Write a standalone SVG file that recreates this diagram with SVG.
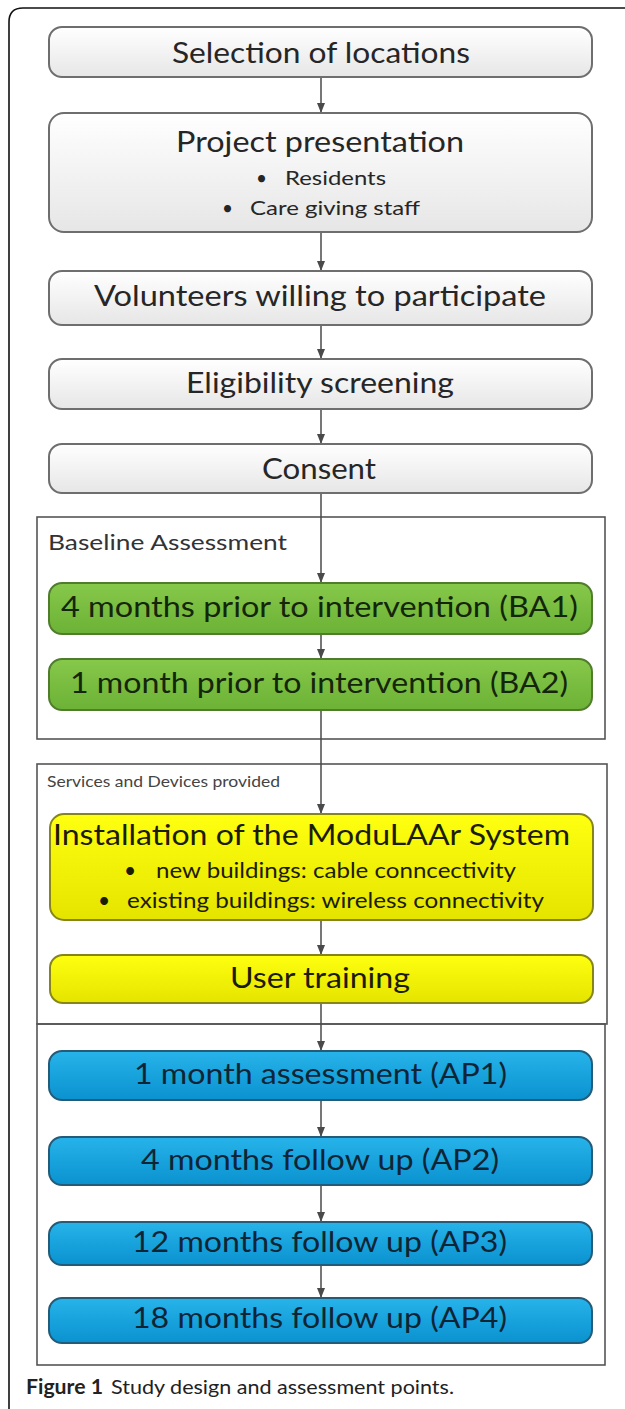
<svg xmlns="http://www.w3.org/2000/svg" width="625" height="1409" viewBox="0 0 625 1409">
<defs>
<linearGradient id="gGray" x1="0" y1="0" x2="0" y2="1"><stop offset="0" stop-color="#ffffff"/><stop offset="1" stop-color="#e6e6e6"/></linearGradient>
<linearGradient id="gGreen" x1="0" y1="0" x2="0" y2="1"><stop offset="0" stop-color="#86c84a"/><stop offset="1" stop-color="#6cb236"/></linearGradient>
<linearGradient id="gYellow" x1="0" y1="0" x2="0" y2="1"><stop offset="0" stop-color="#ffff10"/><stop offset="1" stop-color="#e4e400"/></linearGradient>
<linearGradient id="gBlue" x1="0" y1="0" x2="0" y2="1"><stop offset="0" stop-color="#27b3ea"/><stop offset="1" stop-color="#0a92cf"/></linearGradient>
<marker id="arr" markerUnits="userSpaceOnUse" markerWidth="10" markerHeight="10" viewBox="0 0 10 10" refX="10" refY="5" orient="auto">
<path d="M0,1 L10,5 L0,9 Z" fill="#4a4a4a"/>
</marker>
</defs>
<style>
text{font-family:Lato,"Open Sans","Liberation Sans",sans-serif;}
.t{font-size:28px;fill:#262626;}
.tc{text-anchor:middle;}
.s{font-size:19px;fill:#262626;}
.gray{fill:url(#gGray);stroke:#6e6e6e;stroke-width:2;}
.green{fill:url(#gGreen);stroke:#4f7d2c;stroke-width:2;}
.yellow{fill:url(#gYellow);stroke:#85851c;stroke-width:2;}
.blue{fill:url(#gBlue);stroke:#245b78;stroke-width:2;}
.cont{fill:none;stroke:#555555;stroke-width:1.6;}
.lbl{font-size:21px;fill:#333333;}
.gt{fill:#14260a;}
.yt{fill:#1c1c00;}
.bt{fill:#0f2535;}
.conn line{stroke:#4a4a4a;stroke-width:1.5;marker-end:url(#arr);}
</style>
<rect x="0" y="0" width="625" height="1409" fill="#ffffff"/>
<path d="M9,1409 L9,22 Q9,8 23,8 L625,8" fill="none" stroke="#111111" stroke-width="1.6"/>

<g id="group-baseline">
<rect class="cont" x="37" y="517" width="568" height="222"/>
<text class="lbl" x="48" y="550" textLength="239" lengthAdjust="spacingAndGlyphs">Baseline Assessment</text>
</g>
<g id="group-services">
<rect class="cont" x="37" y="764" width="570" height="260"/>
<text class="lbl" x="47" y="787" style="font-size:16px;fill:#444" textLength="233" lengthAdjust="spacingAndGlyphs">Services and Devices provided</text>
</g>
<g id="group-followup">
<rect class="cont" x="37" y="1024" width="568" height="341"/>
</g>

<g class="conn" id="connectors">
<line x1="321" y1="77" x2="321" y2="113"/>
<line x1="321" y1="232" x2="321" y2="271"/>
<line x1="321" y1="325" x2="321" y2="359"/>
<line x1="321" y1="409" x2="321" y2="444"/>
<line x1="321" y1="493" x2="321" y2="583"/>
<line x1="321" y1="634" x2="321" y2="659"/>
<line x1="321" y1="710" x2="321" y2="814"/>
<line x1="321" y1="920" x2="321" y2="955"/>
<line x1="321" y1="1003" x2="321" y2="1051"/>
<line x1="321" y1="1100" x2="321" y2="1137"/>
<line x1="321" y1="1185" x2="321" y2="1222"/>
<line x1="321" y1="1265" x2="321" y2="1298"/>
</g>

<g id="n-selection">
<rect class="gray" x="49" y="27" width="543" height="50" rx="13"/>
<text class="t tc" x="321" y="63" textLength="298" lengthAdjust="spacingAndGlyphs">Selection of locations</text>
</g>
<g id="n-presentation">
<rect class="gray" x="49" y="113" width="543" height="119" rx="15"/>
<text class="t tc" x="320" y="152" textLength="288" lengthAdjust="spacingAndGlyphs">Project presentation</text>
<text class="s" x="256" y="185">•</text>
<text class="s" x="285" y="185" textLength="101" lengthAdjust="spacingAndGlyphs">Residents</text>
<text class="s" x="222" y="215">•</text>
<text class="s" x="250" y="215" textLength="170" lengthAdjust="spacingAndGlyphs">Care giving staff</text>
</g>
<g id="n-volunteers">
<rect class="gray" x="49" y="271" width="543" height="54" rx="13"/>
<text class="t tc" x="320" y="306" textLength="452" lengthAdjust="spacingAndGlyphs">Volunteers willing to participate</text>
</g>
<g id="n-eligibility">
<rect class="gray" x="49" y="359" width="543" height="50" rx="13"/>
<text class="t tc" x="320" y="393" textLength="268" lengthAdjust="spacingAndGlyphs">Eligibility screening</text>
</g>
<g id="n-consent">
<rect class="gray" x="49" y="444" width="543" height="49" rx="13"/>
<text class="t tc" x="319" y="479" textLength="114" lengthAdjust="spacingAndGlyphs">Consent</text>
</g>

<g id="n-ba1">
<rect class="green" x="49" y="583" width="543" height="51" rx="13"/>
<text class="t gt" x="61" y="617" textLength="517" lengthAdjust="spacingAndGlyphs">4 months prior to intervention (BA1)</text>
</g>
<g id="n-ba2">
<rect class="green" x="49" y="659" width="543" height="51" rx="13"/>
<text class="t gt" x="70" y="693" textLength="498" lengthAdjust="spacingAndGlyphs">1 month prior to intervention (BA2)</text>
</g>

<g id="n-installation">
<rect class="yellow" x="50" y="814" width="543" height="106" rx="14"/>
<text class="t yt" x="53" y="845" textLength="517" lengthAdjust="spacingAndGlyphs">Installation of the ModuLAAr System</text>
<text class="s yt" x="124" y="878" style="font-size:21px">•</text>
<text class="s yt" x="156" y="878" style="font-size:21px" textLength="360" lengthAdjust="spacingAndGlyphs">new buildings: cable conncectivity</text>
<text class="s yt" x="98" y="908" style="font-size:21px">•</text>
<text class="s yt" x="127" y="908" style="font-size:21px" textLength="417" lengthAdjust="spacingAndGlyphs">existing buildings: wireless connectivity</text>
</g>
<g id="n-training">
<rect class="yellow" x="50" y="955" width="543" height="48" rx="13"/>
<text class="t yt" x="230" y="988" textLength="180" lengthAdjust="spacingAndGlyphs">User training</text>
</g>

<g id="n-ap1">
<rect class="blue" x="49" y="1051" width="543" height="49" rx="13"/>
<text class="t bt" x="134" y="1084" textLength="373" lengthAdjust="spacingAndGlyphs">1 month assessment (AP1)</text>
</g>
<g id="n-ap2">
<rect class="blue" x="49" y="1137" width="543" height="48" rx="13"/>
<text class="t bt" x="141" y="1170" textLength="358" lengthAdjust="spacingAndGlyphs">4 months follow up (AP2)</text>
</g>
<g id="n-ap3">
<rect class="blue" x="49" y="1222" width="543" height="43" rx="13"/>
<text class="t bt" x="132" y="1252" textLength="375" lengthAdjust="spacingAndGlyphs">12 months follow up (AP3)</text>
</g>
<g id="n-ap4">
<rect class="blue" x="49" y="1298" width="543" height="45" rx="13"/>
<text class="t bt" x="132" y="1328" textLength="375" lengthAdjust="spacingAndGlyphs">18 months follow up (AP4)</text>
</g>

<g id="caption">
<text x="26" y="1394" style="font-size:20px;font-weight:bold;fill:#222" textLength="77" lengthAdjust="spacingAndGlyphs">Figure 1</text>
<text x="111" y="1394" style="font-size:20px;fill:#222" textLength="343" lengthAdjust="spacingAndGlyphs">Study design and assessment points.</text>
</g>
</svg>
